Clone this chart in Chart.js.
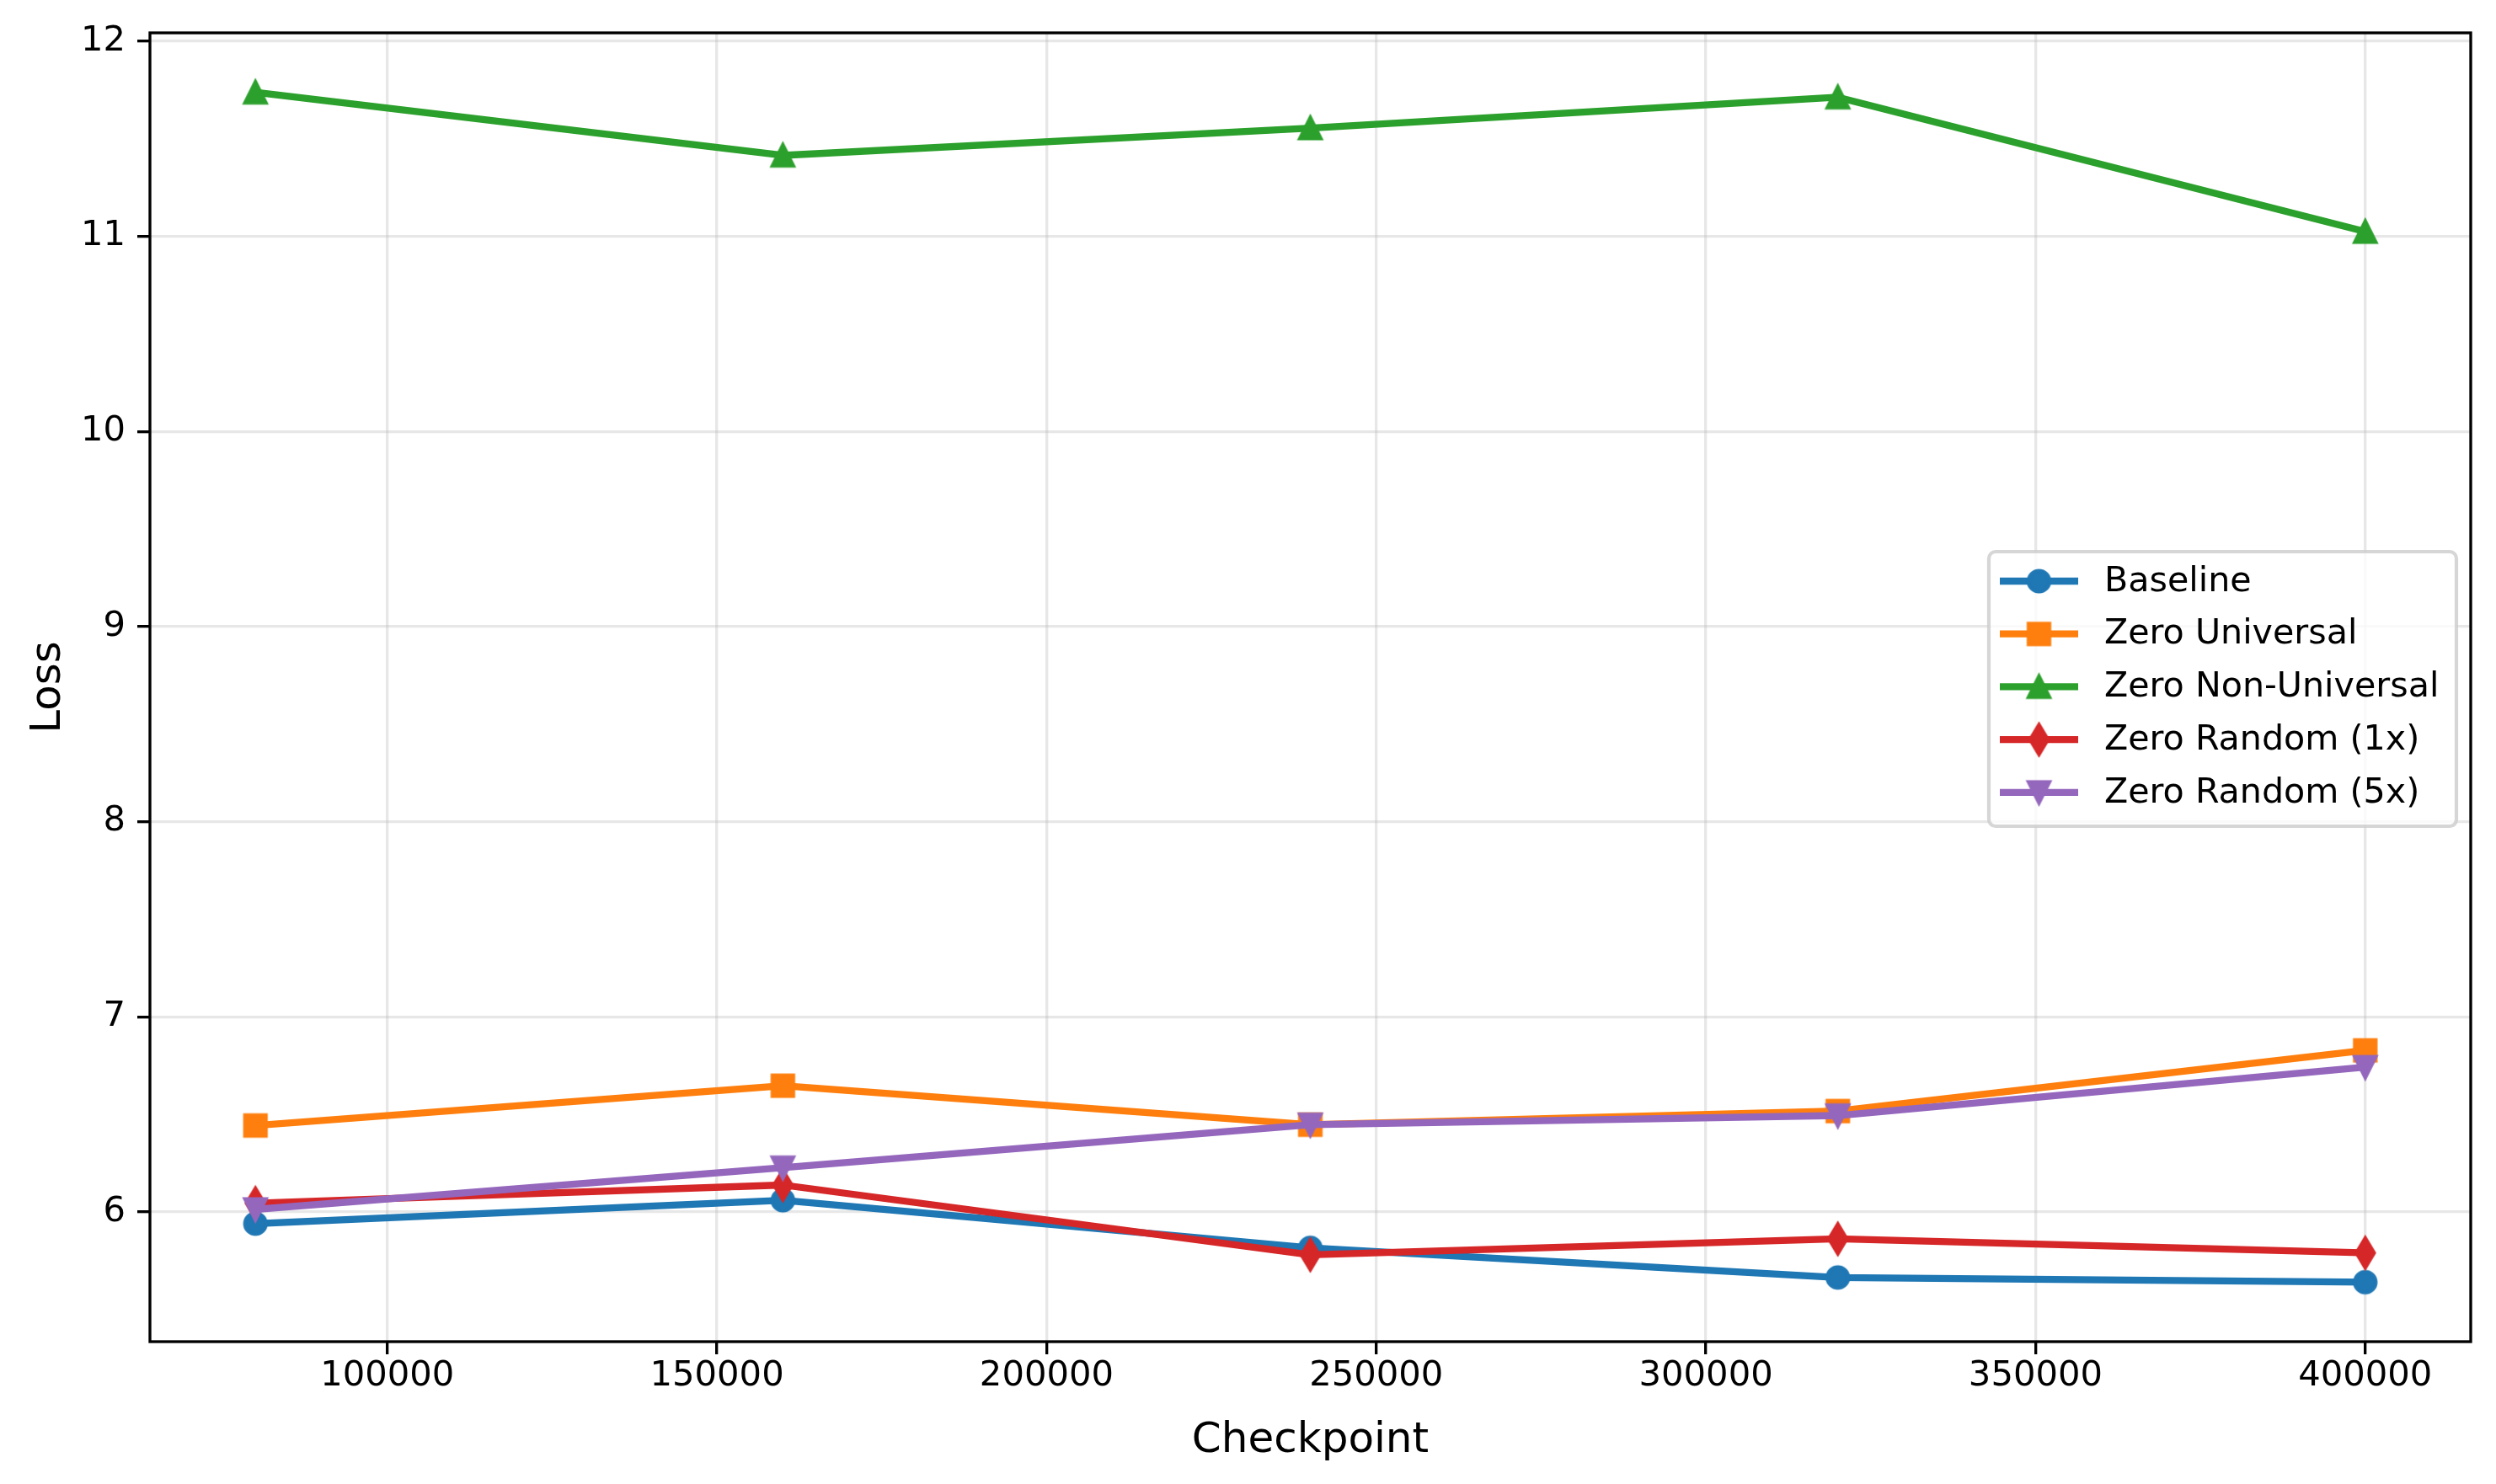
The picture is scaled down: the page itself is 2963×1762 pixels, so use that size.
<!DOCTYPE html>
<html><head><meta charset="utf-8">
<script src="https://cdn.jsdelivr.net/npm/chart.js@4.4.1/dist/chart.umd.min.js"></script>
<style>html,body{margin:0;padding:0;background:#fff;}#wrap{width:2963px;height:1762px;}</style>
</head><body><div id="wrap"><canvas id="c" width="2963" height="1762"></canvas></div>
<script>
// ---- data ----
const checkpoints = [80000, 160000, 240000, 320000, 400000];
const baseline = [5.940, 6.060, 5.816, 5.664, 5.640];
const zeroUniversal = [6.443, 6.647, 6.447, 6.517, 6.828];
const zeroNonUniversal = [11.738, 11.415, 11.555, 11.713, 11.024];
const zeroRandom1x = [6.045, 6.138, 5.780, 5.862, 5.790];
const zeroRandom5x = [6.013, 6.227, 6.447, 6.494, 6.742];
const xTicks = [100000, 150000, 200000, 250000, 300000, 350000, 400000];
const yTicks = [6, 7, 8, 9, 10, 11, 12];
const seriesNames = ['Baseline', 'Zero Universal', 'Zero Non-Universal', 'Zero Random (1x)', 'Zero Random (5x)'];
const seriesValues = [baseline, zeroUniversal, zeroNonUniversal, zeroRandom1x, zeroRandom5x];
const seriesColors = ['#1f77b4', '#ff7f0e', '#2ca02c', '#d62728', '#9467bd'];
const seriesMarkers = ['circle', 'square', 'triangleUp', 'thinDiamond', 'triangleDown'];
const xTitle = 'Checkpoint';
const yTitle = 'Loss';

// ---- styling ----
const FONT = "'DejaVu Sans', 'Liberation Sans', sans-serif";
const MS = 25;          // marker size px
const MEW = 4.17;       // marker edge width px
const LW = 8.3;         // line width px

function makeMarker(shape, color) {
  const S = 64, c = document.createElement('canvas');
  c.width = S; c.height = S;
  const g = c.getContext('2d');
  g.translate(S / 2, S / 2);
  g.beginPath();
  const h = MS / 2;
  if (shape === 'circle') g.arc(0, 0, h, 0, Math.PI * 2);
  else if (shape === 'square') g.rect(-h, -h, MS, MS);
  else if (shape === 'triangleUp') { g.moveTo(0, -h); g.lineTo(-h, h); g.lineTo(h, h); g.closePath(); }
  else if (shape === 'triangleDown') { g.moveTo(0, h); g.lineTo(-h, -h); g.lineTo(h, -h); g.closePath(); }
  else if (shape === 'thinDiamond') { const d = MS * Math.SQRT1_2; g.moveTo(0, -d); g.lineTo(0.6 * d, 0); g.lineTo(0, d); g.lineTo(-0.6 * d, 0); g.closePath(); }
  g.fillStyle = color; g.fill();
  g.lineWidth = MEW; g.lineJoin = 'miter'; g.strokeStyle = color; g.stroke();
  return c;
}
const markerImgs = seriesMarkers.map((m, i) => makeMarker(m, seriesColors[i]));

const allVals = seriesValues.flat();
const yLo = Math.min(...allVals), yHi = Math.max(...allVals);
const xLo = Math.min(...checkpoints), xHi = Math.max(...checkpoints);
const ym = 0.05 * (yHi - yLo), xm = 0.05 * (xHi - xLo);

const datasets = seriesNames.map((name, i) => ({
  label: name,
  data: checkpoints.map((x, j) => ({ x: x, y: seriesValues[i][j] })),
  borderColor: seriesColors[i],
  backgroundColor: seriesColors[i],
  borderWidth: LW,
  borderJoinStyle: 'round',
  borderCapStyle: 'square',
  pointStyle: markerImgs[i],
  pointRadius: 12,
  pointHoverRadius: 12,
  tension: 0,
  fill: false,
  order: seriesNames.length - i
}));

const framePlugin = {
  id: 'frame',
  afterDatasetsDraw(chart) {
    const { ctx, chartArea: a } = chart;
    ctx.save();
    ctx.strokeStyle = '#000'; ctx.lineWidth = 3.33;
    ctx.strokeRect(a.left, a.top, a.right - a.left, a.bottom - a.top);
    ctx.restore();
  }
};

const legendPlugin = {
  id: 'mplLegend',
  afterDraw(chart) {
    const { ctx, chartArea: a } = chart;
    const W = 555, H = 326;
    const right = a.right - 17, left = right - W;
    const top = (a.top + a.bottom) / 2 - H / 2 + 2;
    ctx.save();
    const r = 8;
    ctx.beginPath();
    ctx.moveTo(left + r, top); ctx.lineTo(left + W - r, top); ctx.arcTo(left + W, top, left + W, top + r, r);
    ctx.lineTo(left + W, top + H - r); ctx.arcTo(left + W, top + H, left + W - r, top + H, r);
    ctx.lineTo(left + r, top + H); ctx.arcTo(left, top + H, left, top + H - r, r);
    ctx.lineTo(left, top + r); ctx.arcTo(left, top, left + r, top, r); ctx.closePath();
    ctx.fillStyle = 'rgba(255,255,255,0.8)'; ctx.fill();
    ctx.strokeStyle = 'rgba(204,204,204,0.8)'; ctx.lineWidth = 4.17; ctx.stroke();
    chart.data.datasets.forEach((ds, i) => {
      const cy = top + 35 + i * 62.7;
      ctx.beginPath();
      ctx.moveTo(left + 13, cy); ctx.lineTo(left + 106, cy);
      ctx.strokeStyle = ds.borderColor; ctx.lineWidth = LW; ctx.lineCap = 'butt'; ctx.stroke();
      const img = ds.pointStyle;
      ctx.drawImage(img, left + 59.5 - img.width / 2, cy - img.height / 2);
      ctx.fillStyle = '#000';
      ctx.font = '41.2px ' + FONT;
      ctx.textBaseline = 'middle'; ctx.textAlign = 'left';
      ctx.fillText(ds.label, left + 137, cy + 1);
    });
    ctx.restore();
  }
};

new Chart(document.getElementById('c'), {
  type: 'line',
  data: { datasets },
  options: {
    responsive: false,
    devicePixelRatio: 1,
    animation: false,
    events: [],
    layout: { padding: { top: 34, right: 30, left: 0, bottom: 0 } },
    plugins: { legend: { display: false }, tooltip: { enabled: false } },
    scales: {
      x: {
        type: 'linear', position: 'bottom',
        min: xLo - xm, max: xHi + xm,
        afterBuildTicks: s => { s.ticks = xTicks.map(v => ({ value: v })); },
        afterFit: s => { s.height = 169; },
        ticks: { color: '#000', font: { family: FONT, size: 41.7 }, padding: 1, maxRotation: 0, autoSkip: false,
                 callback: v => String(v) },
        grid: { color: 'rgba(176,176,176,0.3)', lineWidth: 3.33, tickColor: '#000', tickWidth: 3.33, tickLength: 15, drawOnChartArea: true },
        border: { display: false },
        title: { display: true, text: xTitle, color: '#000', font: { family: FONT, size: 50 }, padding: { top: 0, bottom: 21 } }
      },
      y: {
        type: 'linear', position: 'left',
        min: yLo - ym, max: yHi + ym,
        afterBuildTicks: s => { s.ticks = yTicks.map(v => ({ value: v })); },
        afterFit: s => { s.width = 178; },
        ticks: { color: '#000', font: { family: FONT, size: 41.7 }, padding: 14, autoSkip: false,
                 callback: v => String(v) },
        grid: { color: 'rgba(176,176,176,0.3)', lineWidth: 3.33, tickColor: '#000', tickWidth: 3.33, tickLength: 15 },
        border: { display: false },
        title: { display: true, text: yTitle, color: '#000', font: { family: FONT, size: 50 }, padding: { top: 28, bottom: 0 } }
      }
    }
  },
  plugins: [framePlugin, legendPlugin]
});
</script></body></html>
